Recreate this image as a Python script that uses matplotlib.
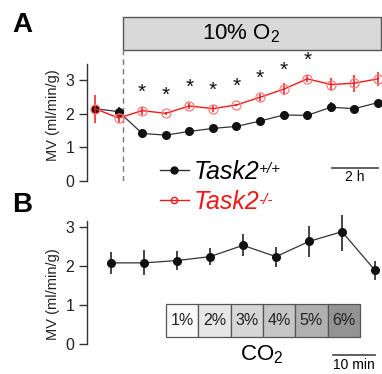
import matplotlib
matplotlib.use('Agg')
import matplotlib.pyplot as plt
from matplotlib.patches import Rectangle
from matplotlib.lines import Line2D

plt.rcParams['font.family'] = ['Liberation Sans', 'DejaVu Sans']
plt.rcParams['mathtext.fontset'] = 'custom'
plt.rcParams['mathtext.rm'] = 'Liberation Sans'
plt.rcParams['mathtext.it'] = 'Liberation Sans:italic'

# A: minute ventilation during hypoxia (time points, 1 h apart)
t_a = list(range(13))
wt_mv = [2.16, 2.07, 1.42, 1.37, 1.48, 1.57, 1.63, 1.79, 1.97, 1.96, 2.20, 2.16, 2.34]
wt_err = [0.08, 0.15, 0.05, 0.04, 0.05, 0.06, 0.06, 0.08, 0.12, 0.12, 0.15, 0.06, 0.08]
ko_mv = [2.16, 1.88, 2.10, 2.02, 2.24, 2.16, 2.27, 2.50, 2.74, 3.05, 2.88, 2.92, 3.05]
ko_err = [0.42, 0.15, 0.12, 0.05, 0.08, 0.10, 0.03, 0.10, 0.18, 0.10, 0.20, 0.25, 0.20]
star_idx = [2, 3, 4, 5, 6, 7, 8, 9]
genotypes = ['Task2', 'Task2']
genotype_sup = ['+/+', '-/-']

# B: minute ventilation with rising CO2
t_b = list(range(9))
b_mv = [2.08, 2.08, 2.14, 2.24, 2.53, 2.24, 2.63, 2.88, 1.89]
b_err = [0.28, 0.32, 0.25, 0.21, 0.28, 0.26, 0.39, 0.50, 0.25]
co2_labels = ['1%', '2%', '3%', '4%', '5%', '6%']
co2_colors = ['#fafafa', '#e6e6e6', '#d6d6d6', '#c6c6c6', '#b0b0b0', '#939393']

W, H = 382, 374
fig = plt.figure(figsize=(W / 100, H / 100), dpi=100)

red = '#f01818'
pink = '#ff7a7a'
blk = '#111111'
axc = '#333333'


def px_axes(left, top, right, bottom):
    return fig.add_axes([left / W, 1 - bottom / H, (right - left) / W, (bottom - top) / H])


def style(ax, top):
    for s in ['top', 'right', 'bottom']:
        ax.spines[s].set_visible(False)
    ax.spines['left'].set_bounds(0, top)
    ax.spines['left'].set_color(axc)
    ax.spines['left'].set_linewidth(1.0)
    ax.set_xticks([])
    ax.set_yticks([0, 1, 2, 3])
    ax.tick_params(axis='y', length=6, width=1.0, color=axc, labelsize=11.5, pad=3, labelcolor='#222222')
    ax.set_ylabel('MV (ml/min/g)', fontsize=10.5, color='#222222', labelpad=4)


# ---------- panel A ----------
ax = px_axes(87, 50, 382, 181)
ax.set_xlim((87 - 95) / 23.58, (382 - 95) / 23.58)
ax.set_ylim(0, 131 / 33.5)
style(ax, 3.5)

ax.axvline(1.2, color='#777777', lw=1.0, ls=(0, (4, 3)), ymin=0, ymax=1)
ax.errorbar(t_a, wt_mv, yerr=wt_err, color='#333333', ecolor=blk, elinewidth=1.1, lw=0.9,
            marker='o', ms=5.5, mfc=blk, mec=blk, capsize=0, zorder=3)
ax.errorbar(t_a, ko_mv, yerr=ko_err, color=red, ecolor=red, elinewidth=1.1, lw=1.0,
            marker='o', ms=6.5, mfc='none', mec=pink, mew=0.9, capsize=0, zorder=4)
for i in star_idx:
    ax.text(t_a[i], ko_mv[i] + 0.55, '*', ha='center', va='center', fontsize=15, color=blk)

# 10% O2 bar
tr = ax.get_xaxis_transform()
ax.add_patch(Rectangle((1.2, 1.0), 10.95, 33 / 131, transform=tr, facecolor='#d9d9d9',
                       edgecolor='#555555', lw=1.0, clip_on=False))
ax.text(6.2, 1.0 + 16.5 / 131, '10% O$_2$', transform=tr, ha='center', va='center', fontsize=16)

# scale bar 2 h
ax.plot([10.05, 12.0], [0.39, 0.39], color='#444444', lw=1.2, clip_on=False)
ax.text(11.0, 0.12, '2 h', ha='center', va='center', fontsize=10)

# ---------- panel B ----------
bx = px_axes(87, 215, 382, 374)
bx.set_xlim((87 - 111) / 33, (382 - 111) / 33)
bx.set_ylim(-30 / 39, 129 / 39)
style(bx, 3.15)
bx.errorbar(t_b, b_mv, yerr=b_err, color='#333333', ecolor=blk, elinewidth=1.1, lw=0.9,
            marker='o', ms=5.5, mfc=blk, mec=blk, capsize=0, zorder=3)

x0, bw = (166 - 111) / 33, (360 - 166) / 33 / len(co2_labels)
y0, bh = (344 - 337) / 39, 33 / 39
for k, (lab, c) in enumerate(zip(co2_labels, co2_colors)):
    bx.add_patch(Rectangle((x0 + k * bw, y0), bw, bh, facecolor=c, edgecolor='#555555', lw=0.9))
    bx.text(x0 + (k + 0.5) * bw, y0 + bh / 2, lab, ha='center', va='center', fontsize=11.5, color='#222222')
bx.text(4.58, -0.28, 'CO$_2$', ha='center', va='center', fontsize=16)
bx.plot([6.73, 8.0], [-0.29, -0.29], color='#444444', lw=1.2, clip_on=False)
bx.text(7.36, -0.55, '10 min', ha='center', va='center', fontsize=10)

# legend
h_wt = Line2D([], [], color='#333333', lw=1.0, marker='o', ms=5, mfc=blk, mec=blk)
h_ko = Line2D([], [], color=red, lw=1.0, marker='o', ms=4.5, mfc='none', mec=red)
leg = fig.legend([h_wt, h_ko], genotypes,
                 loc='upper left', bbox_to_anchor=(160 / W, 1 - 160 / H), frameon=False,
                 prop={'size': 18, 'style': 'italic'}, handlelength=1.15, handletextpad=0.2,
                 labelspacing=0.25, borderpad=0, borderaxespad=0)
leg.get_texts()[1].set_color(red)
for txt, sup, c in zip(leg.get_texts(), genotype_sup, [blk, red]):
    ann = matplotlib.text.Annotation(sup, xy=(1.0, 0.9), xycoords=txt,
                                     xytext=(-1, 0), textcoords='offset points',
                                     ha='left', va='top', fontsize=11,
                                     style='italic', color=c)
    ann.set_zorder(10)
    fig.add_artist(ann)

fig.text(12 / W, 1 - 25 / H, 'A', fontsize=20, fontweight='bold', va='center')
fig.text(12 / W, 1 - 205 / H, 'B', fontsize=20, fontweight='bold', va='center')

fig.savefig('out.png', dpi=100)
